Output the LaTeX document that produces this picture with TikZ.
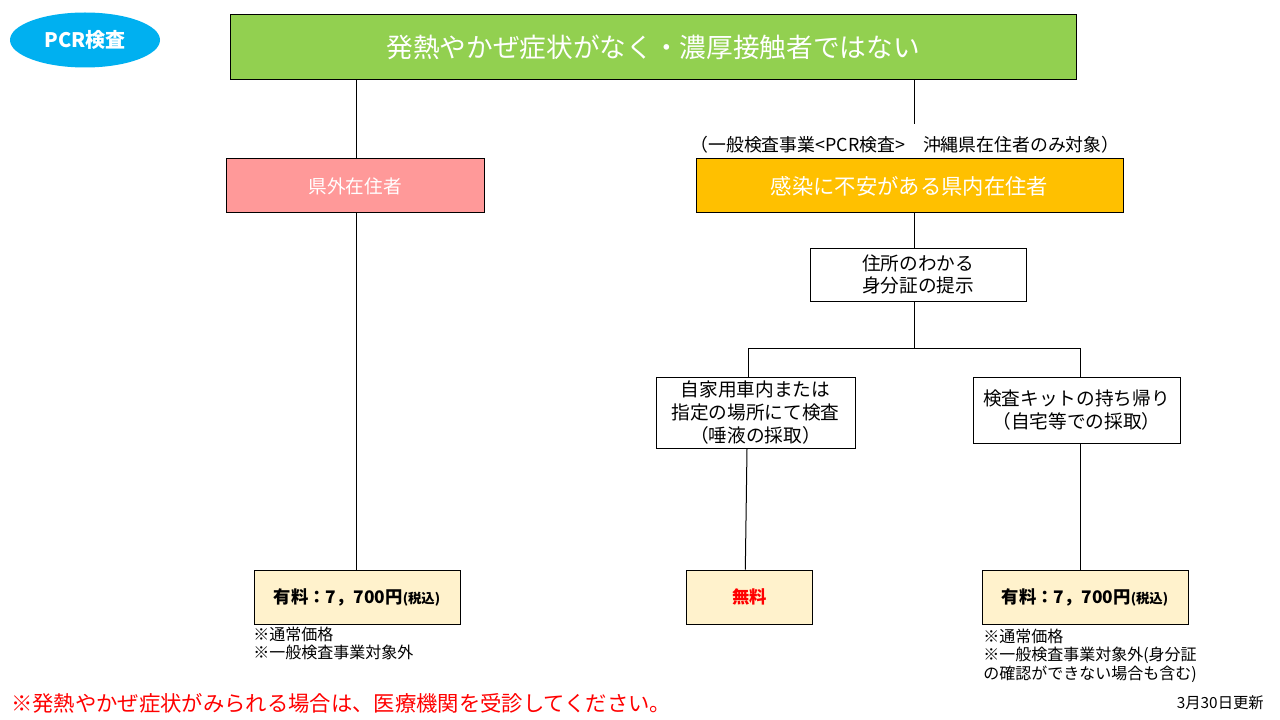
\documentclass[tikz,border=0pt]{standalone}
\usepackage{fontspec}
\setmainfont{Noto Sans CJK JP}
\usetikzlibrary{shapes.geometric,calc}
\definecolor{cyanA}{HTML}{00B0F0}
\definecolor{greenA}{HTML}{92D050}
\definecolor{pinkA}{HTML}{FF9999}
\definecolor{orangeA}{HTML}{FFC000}
\definecolor{creamA}{HTML}{FFF2CC}
\definecolor{redA}{HTML}{FF0000}
\begin{document}
\begin{tikzpicture}[x=0.75pt,y=-0.75pt,
  box/.style={draw=black,line width=0.75pt,inner sep=0pt,align=center},
  conn/.style={draw=black,line width=0.75pt},
  whitebox/.style={box,fill=white,font=\fontsize{14}{17}\selectfont},
  pricebox/.style={box,fill=creamA,minimum height=40.5pt},
  note/.style={inner sep=0pt,align=left,anchor=west,font=\fontsize{12}{14}\selectfont}]
\useasboundingbox (0,0) rectangle (1280,720);
\fill[white] (0,0) rectangle (1280,720);

% nodes
\node[ellipse,fill=cyanA,minimum width=112.5pt,minimum height=41.25pt,inner sep=0pt,
      text=white,font=\fontsize{15}{18}\selectfont\bfseries] (pcr) at (85,40) {PCR検査};
\node[box,fill=greenA,minimum width=634.5pt,minimum height=48.75pt,text=white,
      font=\fontsize{20}{24}\selectfont] (top) at (653,47.5) {発熱やかぜ症状がなく・濃厚接触者ではない};
\node[box,fill=pinkA,minimum width=193.5pt,minimum height=40.5pt,text=white,
      font=\fontsize{14}{17}\selectfont] (outside) at (355,186) {県外在住者};
\node[inner sep=0pt,font=\fontsize{13.4}{16}\selectfont] (ann) at (905,145)
      {（一般検査事業<PCR検査>　沖縄県在住者のみ対象）};
\node[box,fill=orangeA,minimum width=320.25pt,minimum height=40.5pt,text=white,
      font=\fontsize{16}{19}\selectfont] (inside) at (909.5,186) {感染に不安がある県内在住者};
\node[whitebox,minimum width=162pt,minimum height=39.75pt] (addr) at (918,274.5)
      {住所のわかる\\身分証の提示};
\node[whitebox,minimum width=149.25pt,minimum height=53.25pt] (car) at (755.5,412.5)
      {自家用車内または\\指定の場所にて検査\\（唾液の採取）};
\node[whitebox,minimum width=155.25pt,minimum height=49.5pt] (kit) at (1076.5,410)
      {検査キットの持ち帰り\\（自宅等での採取）};
\node[pricebox,minimum width=154.5pt] (payL) at (357,597)
      {\fontsize{13}{16}\selectfont\bfseries 有料：7，700円\fontsize{10}{12}\selectfont(税込)};
\node[pricebox,minimum width=94.5pt,text=redA] (free) at (749.5,597)
      {\fontsize{13}{16}\selectfont\bfseries 無料};
\node[pricebox,minimum width=154.5pt] (payR) at (1085,597)
      {\fontsize{13}{16}\selectfont\bfseries 有料：7，700円\fontsize{10}{12}\selectfont(税込)};

\node[note] (noteL) at (253,643.5) {※通常価格\\※一般検査事業対象外};
\node[note] (noteR) at (983,655.5) {※通常価格\\※一般検査事業対象外(身分証\\の確認ができない場合も含む)};
\node[inner sep=0pt,anchor=west,text=redA,font=\fontsize{16}{19}\selectfont] (warn) at (11,703)
      {※発熱やかぜ症状がみられる場合は、医療機関を受診してください。};
\node[inner sep=0pt,anchor=east,font=\fontsize{11.5}{14}\selectfont] (date) at (1264,703) {3月30日更新};

% connectors
\coordinate (annTop) at (914,124);
\coordinate (split) at (914,348);
\coordinate (splitL) at (748,348);
\coordinate (splitR) at (1080,348);
\draw[conn] (top.south -| 356,0) -- (outside.north -| 356,0);
\draw[conn] (outside.south -| 356,0) -- (payL.north -| 356,0);
\draw[conn] (top.south -| annTop) -- (annTop);
\draw[conn] (inside.south -| split) -- (addr.north -| split);
\draw[conn] (addr.south -| split) -- (split);
\draw[conn] (splitL) -- (splitR);
\draw[conn] (splitL) -- (car.north -| splitL);
\draw[conn] (splitR) -- (kit.north -| splitR);
\draw[conn] ($(car.south)+(-8.5,0)$) -- ($(free.north)+(-4.2,0)$);
\draw[conn] (kit.south -| splitR) -- (payR.north -| splitR);
\end{tikzpicture}
\end{document}
